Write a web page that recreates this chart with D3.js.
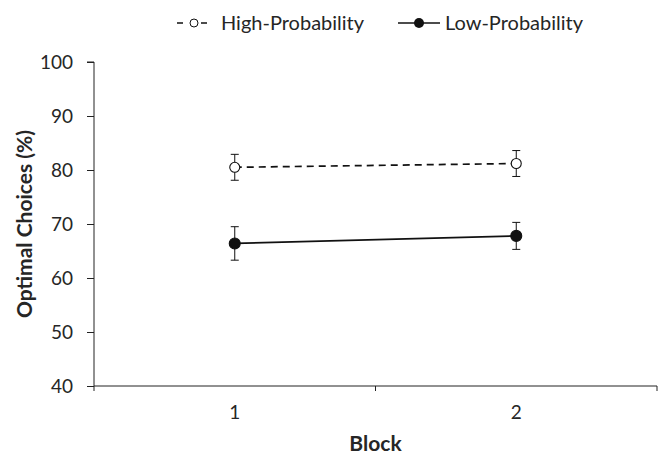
<!DOCTYPE html>
<html><head><meta charset="utf-8">
<script src="https://cdn.jsdelivr.net/npm/d3@7"></script>
<style>body{margin:0;background:#fff}svg{display:block}</style>
</head><body>
<svg id="c" width="660" height="457"></svg>
<script>
const blocks = ["1", "2"];
const highMean = [80.5, 81.2];
const highErr = [2.4, 2.4];
const lowMean = [66.4, 67.8];
const lowErr = [3.1, 2.5];
const yTicks = [40, 50, 60, 70, 80, 90, 100];
const seriesNames = ["High-Probability", "Low-Probability"];

const svg = d3.select("#c");
const font = "Lato, 'Open Sans', sans-serif";
const m = {l: 94, r: 3, t: 62, b: 71};
const W = 660, H = 457;
const x = d3.scaleBand().domain(blocks).range([m.l, W - m.r]);
const y = d3.scaleLinear().domain([40, 100]).range([H - m.b, m.t]);
const ink = "#222";
const txt = "#262626";

// y axis
const ya = svg.append("g").attr("transform", `translate(${m.l},0)`)
  .call(d3.axisLeft(y).tickValues(yTicks).tickSize(7).tickPadding(14).tickFormat(d3.format("d")));
ya.select(".domain").attr("stroke", ink).attr("d", `M-7,${y(100)}H0V${y(40)}`);
ya.selectAll(".tick line").attr("stroke", ink);
ya.selectAll("text").attr("font-family", font).attr("font-size", 19).attr("fill", txt);

// x axis
const xa = svg.append("g").attr("transform", `translate(0,${y(40)})`)
  .call(d3.axisBottom(x).tickSize(0).tickPadding(20));
xa.select(".domain").attr("stroke", ink).attr("d", `M${m.l},0H${W - m.r}`);
xa.selectAll("text").attr("font-family", font).attr("font-size", 19).attr("fill", txt);
const bounds = [m.l, ...blocks.slice(1).map(b => x(b)), W - m.r];
xa.selectAll(".xt").data(bounds).enter().append("line")
  .attr("x1", d => d).attr("x2", d => d).attr("y1", 0).attr("y2", 5).attr("stroke", ink);

// titles
svg.append("text").attr("x", (m.l + W - m.r) / 2).attr("y", 451).attr("text-anchor", "middle")
  .attr("font-family", font).attr("font-weight", "bold").attr("font-size", 21).attr("fill", txt).text("Block");
svg.append("text").attr("transform", `translate(32,${(y(40) + y(100)) / 2}) rotate(-90)`).attr("text-anchor", "middle")
  .attr("font-family", font).attr("font-weight", "bold").attr("font-size", 21).attr("fill", txt).text("Optimal Choices (%)");

const cx = d => x(d) + x.bandwidth() / 2;
function series(means, errs, dashed, filled) {
  const g = svg.append("g");
  const pts = blocks.map((b, i) => ({b, v: means[i], e: errs[i]}));
  g.append("path").datum(pts)
    .attr("d", d3.line().x(d => cx(d.b)).y(d => y(d.v)))
    .attr("fill", "none").attr("stroke", "#111").attr("stroke-width", 1.7)
    .attr("stroke-dasharray", dashed ? "7,5" : null);
  const eb = g.selectAll(".eb").data(pts).enter().append("g");
  eb.append("line").attr("x1", d => cx(d.b)).attr("x2", d => cx(d.b))
    .attr("y1", d => y(d.v + d.e)).attr("y2", d => y(d.v - d.e)).attr("stroke", "#111").attr("stroke-width", 1);
  eb.append("line").attr("x1", d => cx(d.b) - 4).attr("x2", d => cx(d.b) + 4)
    .attr("y1", d => y(d.v + d.e)).attr("y2", d => y(d.v + d.e)).attr("stroke", "#111").attr("stroke-width", 1);
  eb.append("line").attr("x1", d => cx(d.b) - 4).attr("x2", d => cx(d.b) + 4)
    .attr("y1", d => y(d.v - d.e)).attr("y2", d => y(d.v - d.e)).attr("stroke", "#111").attr("stroke-width", 1);
  g.selectAll("circle").data(pts).enter().append("circle")
    .attr("cx", d => cx(d.b)).attr("cy", d => y(d.v))
    .attr("r", filled ? 5.5 : 5).attr("fill", filled ? "#111" : "#fff").attr("stroke", "#111").attr("stroke-width", 1.1);
}
series(highMean, highErr, true, false);
series(lowMean, lowErr, false, true);

// legend
const lg = svg.append("g");
const ly = 23;
lg.append("line").attr("x1", 177).attr("x2", 207).attr("y1", ly).attr("y2", ly)
  .attr("stroke", "#111").attr("stroke-width", 1.6).attr("stroke-dasharray", "6,18");
lg.append("circle").attr("cx", 194).attr("cy", ly).attr("r", 4).attr("fill", "#fff").attr("stroke", "#111");
lg.append("text").attr("x", 221).attr("y", ly + 7).attr("font-family", font).attr("font-size", 20).attr("fill", txt).text(seriesNames[0]);
lg.append("line").attr("x1", 398).attr("x2", 440).attr("y1", ly).attr("y2", ly).attr("stroke", "#111").attr("stroke-width", 1.6);
lg.append("circle").attr("cx", 419).attr("cy", ly).attr("r", 5).attr("fill", "#111");
lg.append("text").attr("x", 445).attr("y", ly + 7).attr("font-family", font).attr("font-size", 20).attr("fill", txt).text(seriesNames[1]);
</script>
</body></html>
